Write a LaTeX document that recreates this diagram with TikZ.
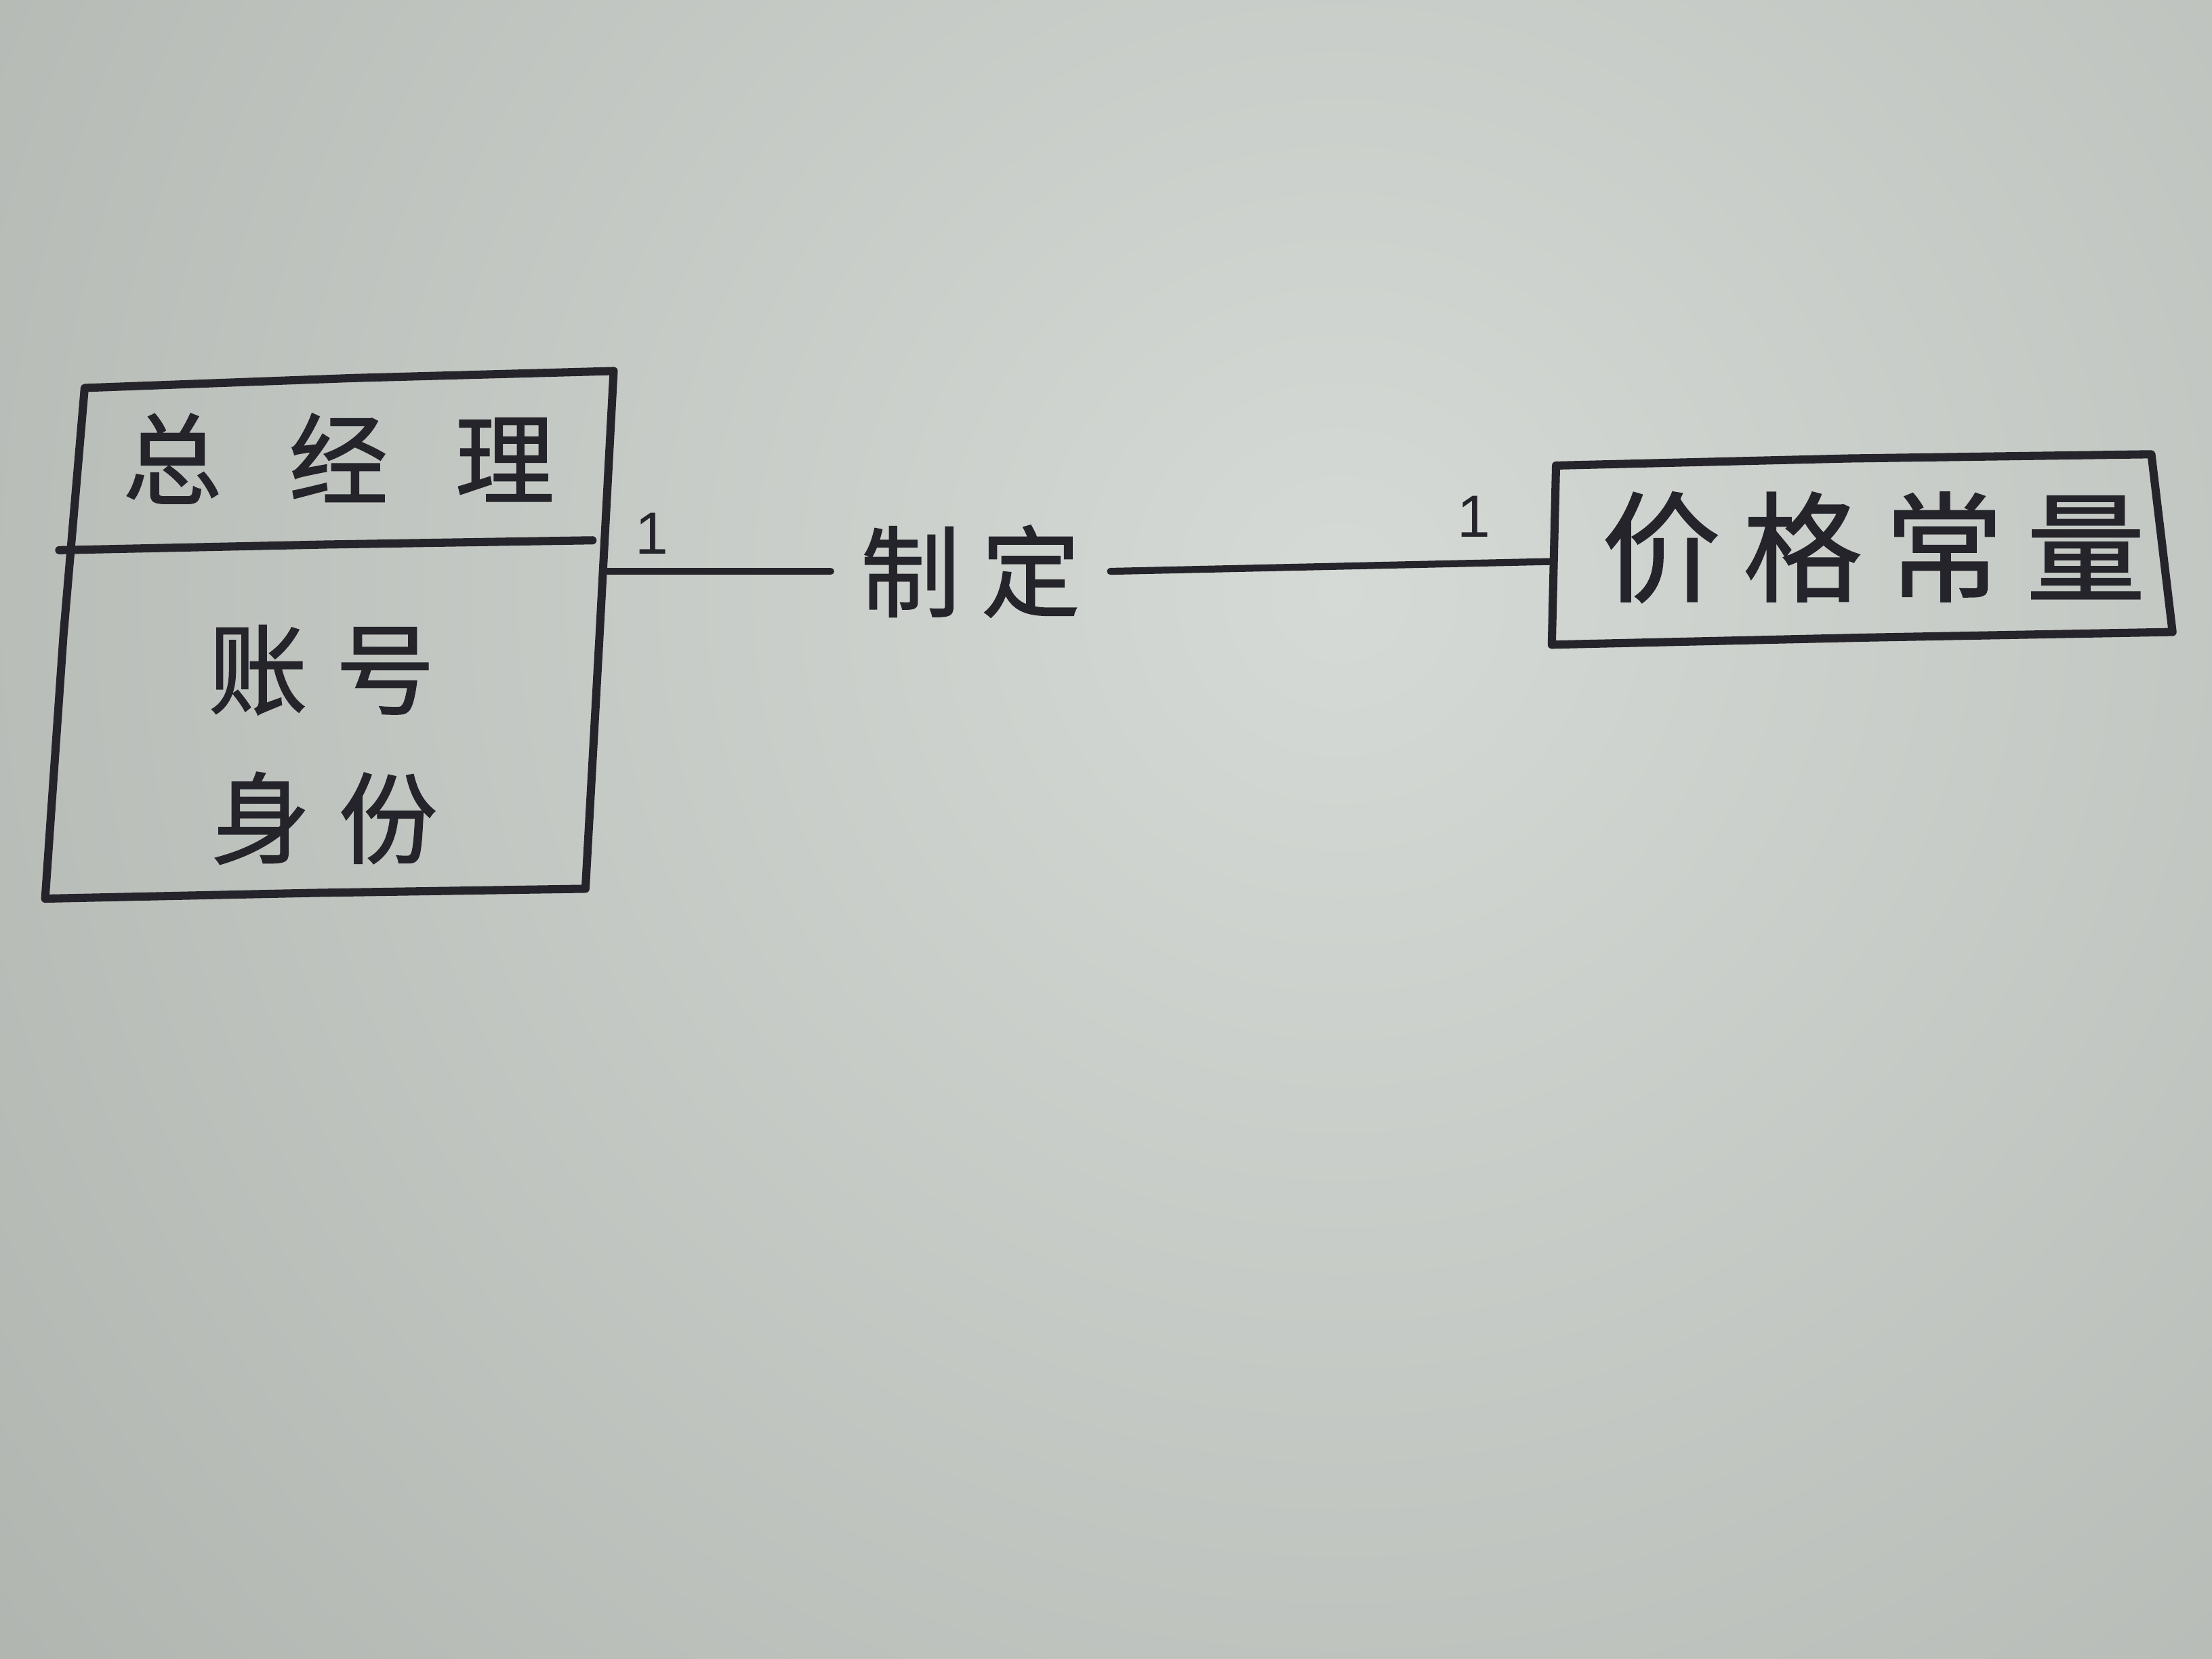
\documentclass[tikz,border=0pt]{standalone}
\usepackage{fontspec}
\newfontfamily\cjk{Noto Sans CJK SC}[FakeBold=1.2]
\newfontfamily\multfont{Liberation Sans}
\definecolor{ink}{RGB}{36,36,42}
\definecolor{paperlight}{RGB}{214,218,214}
\definecolor{paperdark}{RGB}{168,173,168}
\begin{document}
\begin{tikzpicture}[x=0.02cm,y=-0.02cm,
  pen/.style={draw=ink,line width=3.3pt,line join=round,line cap=round},
  thin pen/.style={draw=ink,line width=2.8pt,line cap=round},
  hand/.style={text=ink,inner sep=0pt,font=\cjk\fontsize{40}{40}\selectfont},
  bighand/.style={text=ink,inner sep=0pt,font=\cjk\fontsize{48}{48}\selectfont},
  mult/.style={text=ink,inner sep=0pt,font=\multfont\fontsize{24}{24}\selectfont}]
  % paper sheet
  \useasboundingbox (0,0) rectangle (1568,1176);
  \begin{scope}
    \clip (0,0) rectangle (1568,1176);
    \fill[paperdark] (0,0) rectangle (1568,1176);
    \shade[inner color=paperlight,outer color=paperdark] (950,420) circle (30cm);
  \end{scope}

  % class box: general manager
  \draw[pen] (60,275) -- (250,268) -- (435,263) -- (425,450) -- (415,630)
             -- (220,633) -- (32,637) -- (45,450) -- cycle;
  \draw[pen] (42,390) -- (230,386) -- (420,383);
  \node[hand] (title) at (240,325) {总\hspace{0.95cm}经\hspace{0.95cm}理};
  \node[hand] (attrA) at (228,475) {账\hspace{0.4cm}号};
  \node[hand] (attrB) at (230,580) {身\hspace{0.4cm}份};

  % class box: price constant
  \draw[pen] (1103,330) -- (1310,325) -- (1525,322) -- (1540,448)
             -- (1320,452) -- (1100,457) -- cycle;
  \node[bighand] (price) at (1328,388) {价\hspace{0.32cm}格\hspace{0.32cm}常\hspace{0.32cm}量};

  % association with its name and multiplicities
  \coordinate (lbR) at (427,405);
  \coordinate (rbL) at (1101,398);
  \node[hand,inner xsep=0.42cm] (assoc) at (688,405) {制\hspace{0.3cm}定};
  \draw[thin pen] (lbR) -- (assoc.west);
  \draw[thin pen] (assoc.east) -- (rbL);
  \node[mult] (one1) at (462,378) {1};
  \node[mult] (one2) at (1045,366) {1};
\end{tikzpicture}
\end{document}
